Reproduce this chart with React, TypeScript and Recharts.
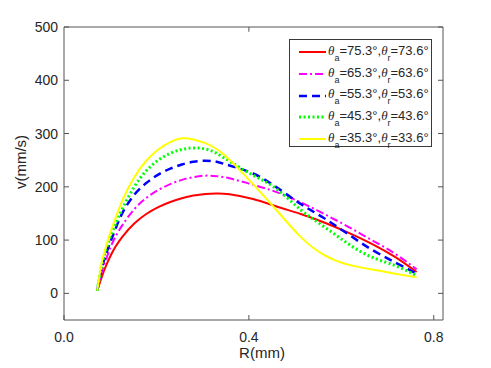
import React from 'react';
import { LineChart, Line, XAxis, YAxis, Legend, ReferenceLine } from 'recharts';

const FONT = '"Liberation Sans", Arial, Helvetica, sans-serif';

const radius = [0.072, 0.081, 0.091, 0.101, 0.111, 0.127, 0.152, 0.178, 0.204, 0.23, 0.255, 0.28, 0.306, 0.33, 0.358, 0.409, 0.46, 0.512, 0.563, 0.615, 0.666, 0.717, 0.763];
const v753 = [5, 29, 52, 71, 87, 107, 131, 149, 162, 171.5, 178.5, 183.5, 186.5, 187.5, 186, 177, 163, 149, 133, 114, 93, 68, 40];
const v653 = [5, 38, 64, 87, 106, 129, 158, 179, 194, 205, 213, 218, 221, 220, 216, 204, 190, 171, 149, 125, 100, 74, 45];
const v553 = [5, 45, 74, 98, 120, 152, 185, 207, 223, 234, 242, 247, 249, 247, 240, 225, 199, 168, 141, 111, 82, 58, 37];
const v453 = [5, 50, 82, 108, 129, 160, 200, 230, 250, 263, 270, 273, 271, 263, 248, 222, 196, 157, 125, 93, 68, 52, 33];
const v353 = [5, 55, 88, 116, 140, 176, 218, 249, 270, 284, 291, 289, 282, 271, 251, 205, 156, 106, 72, 54, 45, 37, 30];

const thetaA = ['75.3', '65.3', '55.3', '45.3', '35.3'];
const thetaR = ['73.6', '63.6', '53.6', '43.6', '33.6'];
const seriesKeys = ['s753', 's653', 's553', 's453', 's353'];
const seriesColors = ['#ff0000', '#ff00ff', '#0000ff', '#00ff00', '#ffff00'];
const seriesDash = ['', '8 3 2 3', '8 5', '2 2.5', ''];
const seriesWidth = [2, 2, 2.5, 3, 2];

const xTicks = [0, 0.4, 0.8];
const yTicks = [0, 100, 200, 300, 400, 500];
const xDomain = [0, 0.82];
const yDomain = [-50, 500];

const data = radius.map((r, i) => ({
  R: r,
  s753: v753[i],
  s653: v653[i],
  s553: v553[i],
  s453: v453[i],
  s353: v353[i],
}));

const tickStyle = { fill: '#262626', fontSize: 14, fontFamily: FONT };
const axisColor = '#555555';

const renderLegend = () => (
  <div
    style={{
      position: 'relative',
      width: 141,
      height: 106,
      border: '1px solid #3a3a3a',
      background: '#ffffff',
      fontFamily: FONT,
      fontSize: 13,
      color: '#262626',
    }}
  >
    {seriesKeys.map((k, i) => (
      <div
        key={k}
        style={{
          position: 'absolute',
          left: 0,
          top: 12.4 + i * 21.65 - 10,
          height: 20,
          display: 'flex',
          alignItems: 'center',
          whiteSpace: 'nowrap',
        }}
      >
        <svg width={37} height={20} style={{ display: 'block' }}>
          <line
            x1={9}
            x2={36}
            y1={10}
            y2={10}
            stroke={seriesColors[i]}
            strokeWidth={seriesWidth[i]}
            strokeDasharray={seriesDash[i] || undefined}
          />
        </svg>
        <span style={{ lineHeight: '20px', marginLeft: 1, position: 'relative', top: -1 }}>
          <i style={{ fontFamily: '"Liberation Serif", serif' }}>θ</i>
          <span style={{ fontSize: 9, position: 'relative', top: 6 }}>a</span>
          ={thetaA[i]}°,
          <i style={{ fontFamily: '"Liberation Serif", serif' }}>θ</i>
          <span style={{ fontSize: 9, position: 'relative', top: 6 }}>r</span>
          ={thetaR[i]}°
        </span>
      </div>
    ))}
  </div>
);

export default function App() {
  return (
    <div style={{ position: 'relative', width: 483, height: 360, background: '#ffffff' }}>
      <LineChart
        width={483}
        height={360}
        data={data}
        margin={{ top: 19, right: 47, bottom: 0, left: 6 }}
      >
        <XAxis
          xAxisId="bottom"
          dataKey="R"
          type="number"
          domain={xDomain}
          ticks={xTicks}
          allowDataOverflow
          tickFormatter={(v: number) => v.toFixed(1)}
          tick={tickStyle}
          tickSize={-5}
          tickMargin={17}
          height={48}
          stroke={axisColor}
        />
        <YAxis
          yAxisId="left"
          type="number"
          domain={yDomain}
          ticks={yTicks}
          allowDataOverflow
          tick={tickStyle}
          tickSize={-5}
          tickMargin={11}
          width={50}
          stroke={axisColor}
        />
        <YAxis
          yAxisId="right"
          orientation="right"
          type="number"
          domain={yDomain}
          ticks={yTicks}
          allowDataOverflow
          tickFormatter={() => ''}
          tickSize={-5}
          width={1}
          stroke={axisColor}
        />
        <ReferenceLine xAxisId="bottom" yAxisId="left" y={yDomain[1]} stroke={axisColor} />
        <ReferenceLine
          xAxisId="bottom"
          yAxisId="left"
          segment={[
            { x: xTicks[1], y: yDomain[1] },
            { x: xTicks[1], y: yDomain[1] - 9 },
          ]}
          stroke={axisColor}
        />
        <Legend
          layout="vertical"
          align="center"
          verticalAlign="middle"
          wrapperStyle={{ left: 281, top: 31, width: 143, height: 108 }}
          content={renderLegend}
        />
        {seriesKeys.map((k, i) => (
          <Line
            key={k}
            xAxisId="bottom"
            yAxisId="left"
            dataKey={k}
            type="natural"
            stroke={seriesColors[i]}
            strokeWidth={seriesWidth[i]}
            strokeDasharray={seriesDash[i] || undefined}
            dot={false}
            activeDot={false}
            isAnimationActive={false}
          />
        ))}
      </LineChart>
      <div
        style={{
          position: 'absolute',
          left: 0,
          top: 336,
          width: 508,
          textAlign: 'center',
          fontFamily: FONT,
          fontSize: 15,
          color: '#262626',
          lineHeight: '18px',
        }}
      >
        R(mm)
      </div>
      <div
        style={{
          position: 'absolute',
          left: 13,
          top: 154,
          width: 0,
          height: 0,
        }}
      >
        <div
          style={{
            position: 'absolute',
            left: -60,
            top: -9,
            width: 120,
            textAlign: 'center',
            transform: 'rotate(-90deg)',
            fontFamily: FONT,
            fontSize: 15,
            color: '#262626',
            lineHeight: '18px',
            whiteSpace: 'nowrap',
          }}
        >
          v(mm/s)
        </div>
      </div>
    </div>
  );
}
